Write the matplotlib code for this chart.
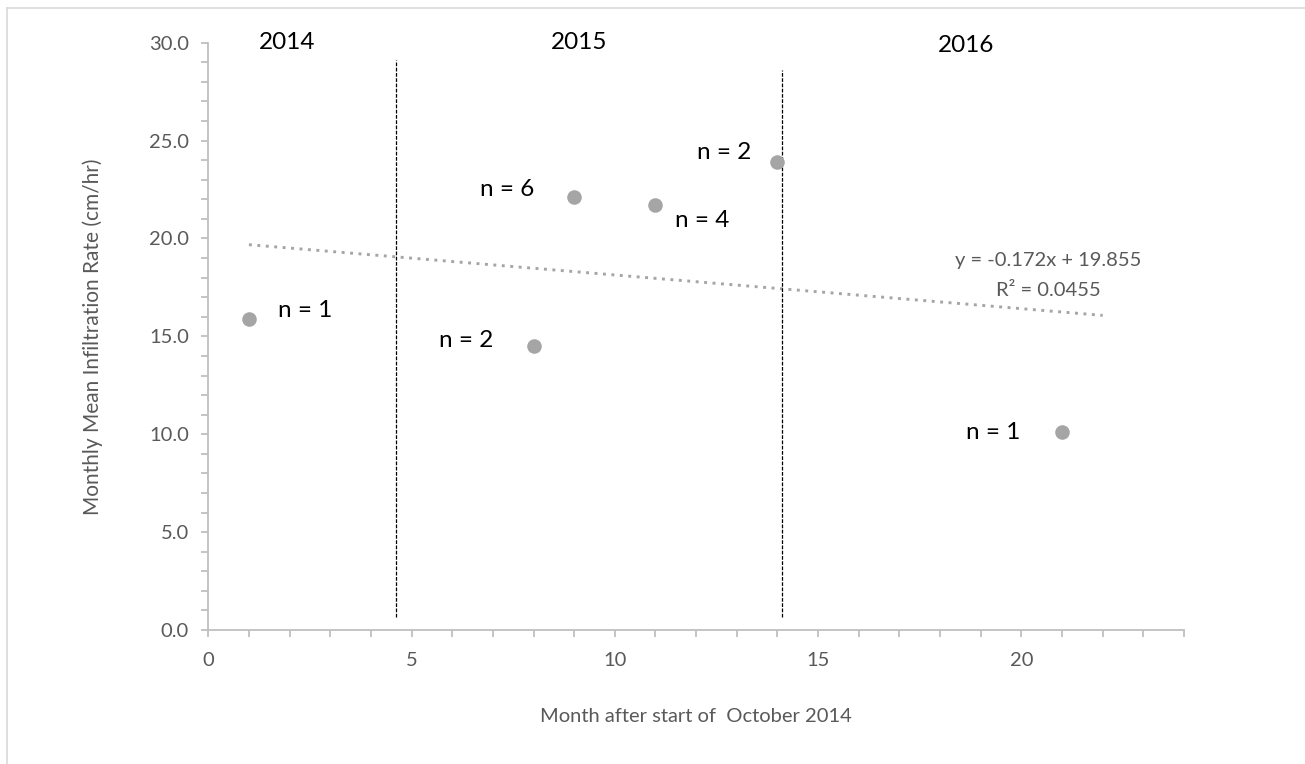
import numpy as np
import matplotlib
matplotlib.use("Agg")
import matplotlib.pyplot as plt
from matplotlib.lines import Line2D

plt.rcParams['font.family'] = ['Lato', 'DejaVu Sans']

# data
months = [1, 8, 9, 11, 14, 21]
rates = [15.9, 14.5, 22.1, 21.7, 23.9, 10.1]
n_labels = ['n = 1', 'n = 2', 'n = 6', 'n = 4', 'n = 2', 'n = 1']
label_pos = [(2.38, 16.3), (6.35, 14.8), (7.35, 22.5), (12.15, 20.9), (12.7, 24.4), (19.3, 10.1)]

slope, intercept = -0.172, 19.855
trend_x = [1, 22]
year_lines = [4.62, 14.12]
year_line_tops = [29.1, 28.6]
years = ['2014', '2015', '2016']
year_pos = [(1.94, 30.0), (9.13, 30.0), (18.65, 29.85)]

grey = '#595959'
axis_grey = '#BFBFBF'
pt_grey = '#A5A5A5'

fig = plt.figure(figsize=(13.05, 7.64), dpi=100)
ax = fig.add_axes([0.1596, 0.1754, 0.7477, 0.7687])

ax.scatter(months, rates, s=110, color=pt_grey, zorder=3, linewidths=0)

tx = np.array(trend_x)
ax.plot(tx, slope * tx + intercept, color=pt_grey, lw=2.1,
        linestyle=(0, (1, 1.9)), zorder=2)

for xv, top in zip(year_lines, year_line_tops):
    ax.plot([xv, xv], [0.66, top], color='black', lw=0.9,
            linestyle=(0, (3, 1.2)), zorder=2)

for txt, (x, y) in zip(n_labels, label_pos):
    ax.text(x, y, txt, ha='center', va='center', fontsize=17.5, color='black')

for txt, (x, y) in zip(years, year_pos):
    ax.text(x, y, txt, ha='center', va='center', fontsize=17.5, color='black', clip_on=False)

ax.text(20.66, 18.9, 'y = -0.172x + 19.855', ha='center', va='center', fontsize=14.5, color=grey)
ax.text(20.66, 17.36, 'R² = 0.0455', ha='center', va='center', fontsize=14.5, color=grey)

ax.set_xlim(0, 24)
ax.set_ylim(0, 30)
ax.set_xticks([0, 5, 10, 15, 20])
ax.set_xticks(range(0, 25), minor=True)
ax.set_yticks(np.arange(0, 31, 5))
ax.set_yticks(range(0, 31), minor=True)
ax.set_yticklabels([f'{v:.1f}' for v in np.arange(0, 31, 5)])

for s in ['top', 'right']:
    ax.spines[s].set_visible(False)
for s in ['left', 'bottom']:
    ax.spines[s].set_color(axis_grey)
    ax.spines[s].set_linewidth(1.3)
ax.tick_params(which='both', direction='out', color=axis_grey, width=1.3, length=5,
               labelcolor=grey, labelsize=14.5)
ax.tick_params(axis='x', pad=11)
ax.tick_params(axis='y', pad=9)

ax.set_xlabel('Month after start of  October 2014', fontsize=14.5, color=grey, labelpad=28)
ax.set_ylabel('Monthly Mean Infiltration Rate (cm/hr)', fontsize=15, color=grey, labelpad=33)

# chart border (only top and left visible in the original)
fig.add_artist(Line2D([7 / 1305, 7 / 1305], [0, 1 - 8 / 764], transform=fig.transFigure,
                      color='#D9D9D9', lw=1.2))
fig.add_artist(Line2D([7 / 1305, 1], [1 - 8 / 764, 1 - 8 / 764], transform=fig.transFigure,
                      color='#D9D9D9', lw=1.2))

fig.savefig('out.png', dpi=100)
